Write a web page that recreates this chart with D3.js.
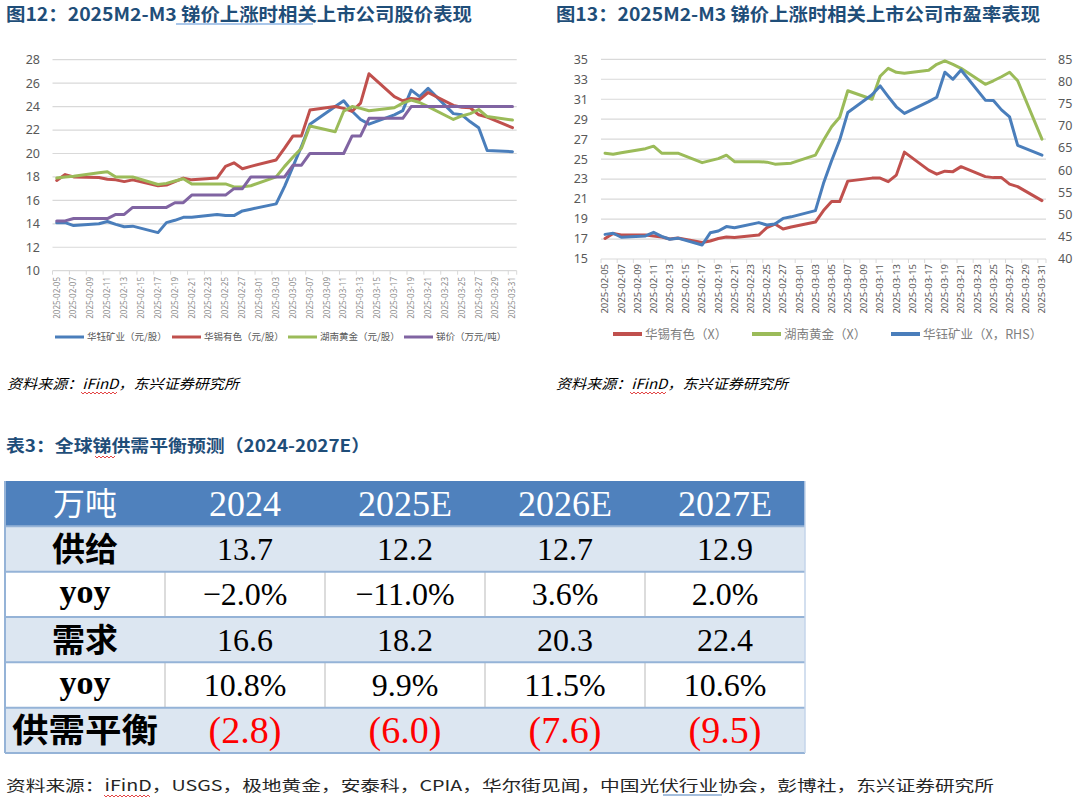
<!DOCTYPE html>
<html>
<head>
<meta charset="utf-8">
<script src="https://cdn.jsdelivr.net/npm/d3@7"></script>
<style>
body { margin: 0; background: #fff; }
svg { display: block; font-family: "Noto Sans CJK SC", "Noto Sans", sans-serif; }
</style>
</head>
<body>
<div class="canvas"></div>
<script>
//DATA - trading days
const dates = ["2025-02-05","2025-02-06","2025-02-07","2025-02-10","2025-02-11","2025-02-12","2025-02-13","2025-02-14",
  "2025-02-17","2025-02-18","2025-02-19","2025-02-20","2025-02-21","2025-02-24","2025-02-25","2025-02-26","2025-02-27","2025-02-28",
  "2025-03-03","2025-03-04","2025-03-05","2025-03-06","2025-03-07","2025-03-10","2025-03-11","2025-03-12","2025-03-13","2025-03-14",
  "2025-03-17","2025-03-18","2025-03-19","2025-03-20","2025-03-21","2025-03-24","2025-03-25","2025-03-26","2025-03-27","2025-03-28","2025-03-31"];

const tickLabels = ["2025-02-05","2025-02-07","2025-02-09","2025-02-11","2025-02-13","2025-02-15","2025-02-17","2025-02-19",
  "2025-02-21","2025-02-23","2025-02-25","2025-02-27","2025-03-01","2025-03-03","2025-03-05","2025-03-07","2025-03-09","2025-03-11",
  "2025-03-13","2025-03-15","2025-03-17","2025-03-19","2025-03-21","2025-03-23","2025-03-25","2025-03-27","2025-03-29","2025-03-31"];

// fig 12: share prices (元/股) and antimony price (万元/吨)
const huayuPrice = [14.1,14.1,13.85,14.0,14.2,13.95,13.75,13.8,13.25,14.1,14.3,14.55,14.55,14.8,14.7,14.7,15.1,15.25,15.7,
  17.2,18.9,20.6,22.5,24.0,24.5,23.6,22.9,22.5,23.3,23.65,25.4,24.85,25.55,23.4,23.3,22.7,22.2,20.25,20.15];
const huaxiPrice = [17.7,18.2,18.0,17.95,17.8,17.75,17.6,17.75,17.25,17.3,17.6,17.9,17.75,17.9,18.9,19.2,18.7,18.9,19.45,
  20.45,21.5,21.5,23.7,24.0,23.85,23.6,24.3,26.8,24.85,24.5,24.7,24.6,25.2,24.1,23.95,23.9,23.3,23.1,22.2];
const hunanPrice = [17.9,18.0,18.05,18.35,18.45,18.0,18.0,18.0,17.35,17.45,17.65,17.85,17.4,17.4,17.4,17.15,17.15,17.25,18.0,
  18.9,19.7,20.45,22.35,21.85,23.6,24.0,23.85,23.65,23.9,24.3,24.55,24.35,24.0,22.9,23.2,23.4,23.75,23.15,22.85];
const antimonyPrice = [14.25,14.25,14.45,14.45,14.45,14.8,14.8,15.4,15.4,15.4,15.8,15.8,16.45,16.45,16.45,17.0,17.0,18.0,18.0,
  18.0,19.0,19.0,20.0,20.0,20.0,21.5,21.5,23.0,23.0,23.0,24.0,24.0,24.0,24.0,24.0,24.0,24.0,24.0,24.0];

// fig 13: P/E
const huaxiPE = [17.05,17.55,17.4,17.4,17.3,17.2,17.0,17.1,16.65,16.8,17.05,17.2,17.15,17.4,18.15,18.5,18.0,18.2,18.7,
  19.85,20.75,20.75,22.8,23.1,23.1,22.75,23.4,25.7,23.9,23.5,23.8,23.75,24.25,23.25,23.15,23.15,22.5,22.25,20.85];
const hunanPE = [25.6,25.5,25.65,26.05,26.3,25.6,25.6,25.6,24.65,24.85,25.05,25.4,24.75,24.75,24.7,24.5,24.55,24.6,25.4,
  26.9,28.25,29.2,31.85,31.0,33.3,34.1,33.7,33.6,33.9,34.5,34.85,34.5,34.1,32.5,32.85,33.25,33.7,32.85,27.0];
const huayuPE = [45.55,45.8,44.9,45.2,46.0,45.1,44.45,44.7,43.15,45.9,46.3,47.3,47.05,48.2,47.65,47.9,49.15,49.5,50.9,
  57.05,62.15,66.8,73.0,77.0,79.0,76.6,74.3,72.8,75.45,76.45,82.1,80.5,82.6,75.8,75.7,73.6,72.0,65.6,63.4];

const priceTicks = [10,12,14,16,18,20,22,24,26,28];
const peTicks = [15,17,19,21,23,25,27,29,31,33,35];
const peRightTicks = [40,45,50,55,60,65,70,75,80,85];

// table 3
const tableHead = "万吨";
const years = ["2024","2025E","2026E","2027E"];
const supply = [13.7,12.2,12.7,12.9];
const supplyYoy = [-2.0,-11.0,3.6,2.0];
const demand = [16.6,18.2,20.3,22.4];
const demandYoy = [10.8,9.9,11.5,10.6];
const balance = [-2.8,-6.0,-7.6,-9.5];

//SVG
var w = 1080, h = 805;
const svg = d3.select('.canvas').append('svg').attr('width', w).attr('height', h);
svg.append('rect').attr('width', w).attr('height', h).attr('fill', '#fff');

const parse = d3.utcParse('%Y-%m-%d');
const dayStart = d3.utcHour.offset(parse(dates[0]), -12);
const dayEnd = d3.utcHour.offset(parse(dates[dates.length - 1]), 12);
const titleColor = '#1f4e79';

//LINE CHART HELPER
function lineChart(o) {
  const g = svg.append('g');
  const x = d3.scaleUtc().domain([dayStart, dayEnd]).range([o.left, o.right]);
  const y = d3.scaleLinear().domain(o.yDomain).range([o.bottom, o.top]);
  const y2 = o.y2Domain ? d3.scaleLinear().domain(o.y2Domain).range([o.bottom, o.top]) : null;

  g.selectAll('.grid').data(o.yTicks).join('line').attr('class', 'grid')
    .attr('x1', o.left).attr('x2', o.right)
    .attr('y1', d => y(d)).attr('y2', d => y(d))
    .attr('stroke', '#d9d9d9').attr('stroke-width', 1.2);

  g.selectAll('.ylab').data(o.yTicks).join('text').attr('class', 'ylab')
    .attr('x', o.yLabelX).attr('y', d => y(d)).attr('dy', '0.35em')
    .attr('text-anchor', 'end').attr('font-family', '"Noto Sans", sans-serif')
    .attr('font-size', 12.5).attr('fill', '#595959').text(d => d);

  if (y2) {
    g.selectAll('.ylab2').data(o.y2Ticks).join('text').attr('class', 'ylab2')
      .attr('x', o.y2LabelX).attr('y', d => y2(d)).attr('dy', '0.35em')
      .attr('font-family', '"Noto Sans", sans-serif')
      .attr('font-size', 12.5).attr('fill', '#595959').text(d => d);
  }

  // tick marks on the date axis
  const tickPos = tickLabels.map(d => d3.utcHour.offset(parse(d), -12)).concat([dayEnd]);
  g.selectAll('.xtick').data(tickPos).join('line').attr('class', 'xtick')
    .attr('x1', d => x(d)).attr('x2', d => x(d))
    .attr('y1', o.bottom).attr('y2', o.bottom + 4)
    .attr('stroke', '#d9d9d9').attr('stroke-width', 1);

  g.selectAll('.xlab').data(tickLabels).join('text').attr('class', 'xlab')
    .attr('transform', d => 'translate(' + x(parse(d)) + ',' + o.xLabelTop + ') rotate(-90)')
    .attr('text-anchor', 'end').attr('dy', '0.35em')
    .attr('font-family', '"Noto Sans", sans-serif')
    .attr('font-size', o.xLabelSize).attr('fill', o.xLabelColor).text(d => d);

  const line = (sc) => d3.line().x((d, i) => x(parse(dates[i]))).y(d => sc(d));
  o.series.forEach(s => {
    g.append('path').datum(s.values)
      .attr('fill', 'none').attr('stroke', s.color).attr('stroke-width', 3)
      .attr('stroke-linejoin', 'round').attr('stroke-linecap', 'round')
      .attr('d', line(s.right ? y2 : y));
  });

  // legend
  o.series.slice().sort((a, b) => a.legendOrder - b.legendOrder).forEach((s, i) => {
    const lx = o.legendX[i];
    g.append('line').attr('x1', lx).attr('x2', lx + o.legendLine)
      .attr('y1', o.legendY).attr('y2', o.legendY)
      .attr('stroke', s.color).attr('stroke-width', o.legendStroke);
    g.append('text').attr('x', lx + o.legendLine + 3).attr('y', o.legendY).attr('dy', '0.36em')
      .attr('font-size', o.legendSize).attr('fill', o.legendColor).text(s.name);
  });
  return g;
}

//FIG 12
lineChart({
  left: 52.5, right: 516.7, top: 59.7, bottom: 270.7,
  yDomain: [10, 28], yTicks: priceTicks, yLabelX: 40,
  xLabelTop: 277, xLabelSize: 8, xLabelColor: '#8c8c8c',
  legendX: [55, 172, 288, 404], legendY: 337, legendLine: 29, legendStroke: 3,
  legendSize: 9.5, legendColor: '#595959',
  series: [
    { name: '华钰矿业（元/股）', values: huayuPrice, color: '#4a7ebb', legendOrder: 0 },
    { name: '华锡有色（元/股）', values: huaxiPrice, color: '#c0504d', legendOrder: 1 },
    { name: '湖南黄金（元/股）', values: hunanPrice, color: '#9bbb59', legendOrder: 2 },
    { name: '锑价（万元/吨）', values: antimonyPrice, color: '#8064a2', legendOrder: 3 }
  ]
});

//FIG 13
lineChart({
  left: 601, right: 1046, top: 59.3, bottom: 259,
  yDomain: [15, 35], yTicks: peTicks, yLabelX: 588,
  y2Domain: [40, 85], y2Ticks: peRightTicks, y2LabelX: 1058,
  xLabelTop: 264, xLabelSize: 9.5, xLabelColor: '#595959',
  legendX: [613, 752, 891], legendY: 334, legendLine: 29, legendStroke: 4,
  legendSize: 12.5, legendColor: '#7f7f7f',
  series: [
    { name: '华锡有色（X）', values: huaxiPE, color: '#c0504d', legendOrder: 0 },
    { name: '湖南黄金（X）', values: hunanPE, color: '#9bbb59', legendOrder: 1 },
    { name: '华钰矿业（X，RHS）', values: huayuPE, color: '#4a7ebb', right: true, legendOrder: 2 }
  ]
});

//TITLES
svg.append('text').attr('x', 6).attr('y', 21).attr('font-size', 18).attr('font-weight', 'bold')
  .attr('fill', titleColor).attr('textLength', 466).attr('lengthAdjust', 'spacingAndGlyphs')
  .text('图12：2025M2-M3 锑价上涨时相关上市公司股价表现');
svg.append('line').attr('x1', 176).attr('x2', 313).attr('y1', 24).attr('y2', 24)
  .attr('stroke', '#8eb4e3').attr('stroke-width', 1.5);
svg.append('text').attr('x', 556).attr('y', 21).attr('font-size', 18).attr('font-weight', 'bold')
  .attr('fill', titleColor).attr('textLength', 484).attr('lengthAdjust', 'spacingAndGlyphs')
  .text('图13：2025M2-M3 锑价上涨时相关上市公司市盈率表现');

//SOURCES
function squiggle(x0, x1, y0, color) {
  let d = 'M' + x0 + ',' + y0;
  for (let xx = x0 + 2, k = 1; xx <= x1; xx += 2, k++) d += ' L' + xx + ',' + (y0 + (k % 2 ? 2 : 0));
  svg.append('path').attr('d', d).attr('fill', 'none').attr('stroke', color).attr('stroke-width', 0.9);
}
svg.append('text').attr('x', 7).attr('y', 389).attr('font-size', 14).attr('font-style', 'italic')
  .attr('fill', '#000').attr('textLength', 232).attr('lengthAdjust', 'spacingAndGlyphs')
  .text('资料来源：iFinD，东兴证券研究所');
squiggle(81, 117, 392, '#e03030');
svg.append('text').attr('x', 556).attr('y', 389).attr('font-size', 14).attr('font-style', 'italic')
  .attr('fill', '#000').attr('textLength', 232).attr('lengthAdjust', 'spacingAndGlyphs')
  .text('资料来源：iFinD，东兴证券研究所');
squiggle(630, 666, 392, '#e03030');

//TABLE TITLE
svg.append('text').attr('x', 6).attr('y', 452).attr('font-size', 17).attr('font-weight', 'bold')
  .attr('fill', titleColor).attr('textLength', 364).attr('lengthAdjust', 'spacingAndGlyphs')
  .text('表3：全球锑供需平衡预测（2024-2027E）');
squiggle(95, 116, 456, '#e03030');

//TABLE
const fmtPct = v => (v < 0 ? '\u2212' : '') + Math.abs(v).toFixed(1) + '%';
const rows = [
  { key: 'head', label: tableHead, cells: years, fill: '#4f81bd' },
  { key: 'supply', label: '供给', cells: supply.map(v => v.toFixed(1)), fill: '#dce6f1' },
  { key: 'supplyYoy', label: 'yoy', cells: supplyYoy.map(fmtPct), fill: '#ffffff' },
  { key: 'demand', label: '需求', cells: demand.map(v => v.toFixed(1)), fill: '#dce6f1' },
  { key: 'demandYoy', label: 'yoy', cells: demandYoy.map(fmtPct), fill: '#ffffff' },
  { key: 'balance', label: '供需平衡', cells: balance.map(v => v < 0 ? '(' + Math.abs(v).toFixed(1) + ')' : v.toFixed(1)), fill: '#dce6f1' }
];
const colX = d3.scaleBand().domain(['label'].concat(years)).range([5, 805]);
const rowY = d3.scaleBand().domain(rows.map(r => r.key)).range([481, 753]);
const tg = svg.append('g');

rows.forEach(r => {
  const y0 = rowY(r.key), rh = rowY.bandwidth(), cy = y0 + rh / 2;
  tg.append('rect').attr('x', 5).attr('y', y0).attr('width', 800).attr('height', rh).attr('fill', r.fill);
  if (r.fill === '#ffffff') {
    years.forEach(yv => {
      tg.append('line').attr('x1', colX(yv)).attr('x2', colX(yv)).attr('y1', y0).attr('y2', y0 + rh)
        .attr('stroke', '#d0d0d0').attr('stroke-width', 1.5);
    });
  }
  const isHead = r.key === 'head';
  const lab = tg.append('text').attr('x', colX('label') + 80).attr('y', cy).attr('dy', '0.36em')
    .attr('text-anchor', 'middle').text(r.label);
  if (isHead) {
    lab.attr('font-size', 32).attr('fill', '#fff').attr('font-family', '"Noto Sans CJK SC", serif');
  } else if (r.label === 'yoy') {
    lab.attr('font-size', 34).attr('font-weight', 'bold').attr('font-family', '"Liberation Serif", serif')
      .attr('dy', '0.25em').attr('fill', '#000');
  } else {
    lab.attr('font-size', 33).attr('font-weight', 'bold').attr('fill', '#000');
    if (r.key === 'balance') lab.attr('textLength', 146).attr('lengthAdjust', 'spacingAndGlyphs');
  }
  r.cells.forEach((c, i) => {
    tg.append('text').attr('x', colX(years[i]) + colX.bandwidth() / 2).attr('y', cy).attr('dy', '0.34em')
      .attr('text-anchor', 'middle').attr('font-family', '"Liberation Serif", serif')
      .attr('font-size', isHead ? 36 : (r.key === 'balance' ? 38 : 32))
      .attr('fill', isHead ? '#fff' : (r.key === 'balance' ? '#ff0000' : '#000'))
      .text(c);
  });
});
// row separators
rows.slice(1).forEach(r => {
  tg.append('line').attr('x1', 5).attr('x2', 805).attr('y1', rowY(r.key)).attr('y2', rowY(r.key))
    .attr('stroke', '#95b3d7').attr('stroke-width', 2);
});
tg.append('line').attr('x1', 5).attr('x2', 805).attr('y1', 753).attr('y2', 753)
  .attr('stroke', '#95b3d7').attr('stroke-width', 2);
tg.append('line').attr('x1', 5).attr('x2', 5).attr('y1', 481).attr('y2', 753)
  .attr('stroke', '#95b3d7').attr('stroke-width', 2);
tg.append('line').attr('x1', 805).attr('x2', 805).attr('y1', 481).attr('y2', 753)
  .attr('stroke', '#c5d5ea').attr('stroke-width', 1.5);

//FOOTNOTE
svg.append('text').attr('x', 6).attr('y', 791).attr('font-size', 15).attr('fill', '#262626')
  .attr('textLength', 988).attr('lengthAdjust', 'spacingAndGlyphs')
  .text('资料来源：iFinD，USGS，极地黄金，安泰科，CPIA，华尔街见闻，中国光伏行业协会，彭博社，东兴证券研究所');
squiggle(104, 151, 795, '#e03030');
svg.append('line').attr('x1', 663).attr('x2', 722).attr('y1', 795).attr('y2', 795)
  .attr('stroke', '#4a7ebb').attr('stroke-width', 1.2);
</script>
</body>
</html>
